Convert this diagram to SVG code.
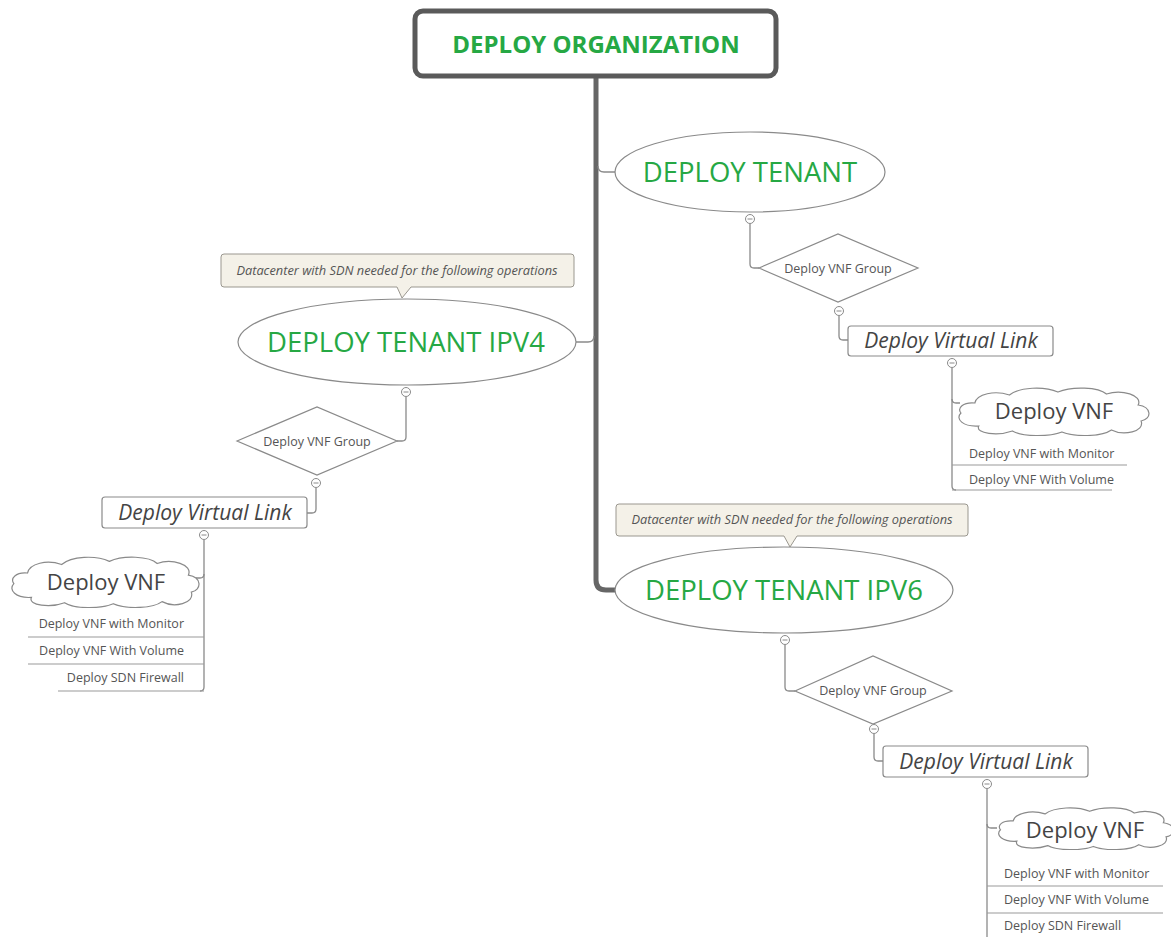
<svg xmlns="http://www.w3.org/2000/svg" xmlns:xlink="http://www.w3.org/1999/xlink" width="1171" height="937" viewBox="0 0 1171 937">
  <style>
    .title { font-family: "Open Sans", "Liberation Sans", sans-serif; fill: #26a844; text-anchor: middle; }
    .lbl { font-family: "Open Sans", "Liberation Sans", sans-serif; fill: #555; }
    .dark { fill: #444; }
    .mid { text-anchor: middle; }
    .end { text-anchor: end; }
    .it { font-style: italic; }
    .shape { fill: #fff; stroke: #8a8a8a; stroke-width: 1.2; }
    .note { fill: #f4f1e8; stroke: #9a978f; stroke-width: 1; }
    .conn { fill: none; stroke: #8a8a8a; stroke-width: 1.3; }
    .trunk { fill: none; stroke: #666; stroke-width: 5; }
    .under { fill: none; stroke: #9a9a9a; stroke-width: 1.2; }
  </style>
  <defs>
    <!-- cloud outline in a 200x50 box, stretched per node -->
    <symbol id="cloud" viewBox="0 0 200 50" preserveAspectRatio="none">
      <path vector-effect="non-scaling-stroke" fill="#fff" stroke="#8a8a8a" stroke-width="1.2"
        d="M 6 27 C 2 22, 8 16, 20 17 C 22 8, 40 4, 55 9 C 65 1, 90 0, 104 6 C 118 0, 145 1, 153 8 C 168 3, 190 9, 185 19 C 199 21, 199 33, 188 35 C 192 46, 170 50, 158 44 C 148 51, 120 51, 108 46 C 95 51, 68 51, 58 45 C 44 50, 20 48, 24 40 C 8 41, 0 33, 6 27 Z"/>
    </symbol>
    <!-- collapse toggle -->
    <g id="toggle">
      <circle r="4.5" fill="#fff" stroke="#8a8a8a" stroke-width="1"/>
      <line x1="-2.5" y1="0" x2="2.5" y2="0" stroke="#8a8a8a" stroke-width="1"/>
    </g>
  </defs>

  <g id="connectors">
    <!-- main trunk from the root down to IPV6 -->
    <path class="trunk" d="M 596 78 V 580 Q 596 590 606 590 H 616"/>
    <path class="conn" stroke-width="2" d="M 598 166 Q 598 172 604 172 H 616"/>
    <path class="conn" stroke-width="2" d="M 594 336 Q 594 342 588 342 H 576"/>

    <!-- DEPLOY TENANT branch -->
    <path class="conn" d="M 750 224 V 264 Q 750 268 754 268 H 759"/>
    <path class="conn" d="M 839 316 V 336 Q 839 340 843 340 H 848"/>
    <path class="conn" d="M 952 368 V 486 Q 952 490 956 490"/>
    <path class="conn" d="M 952 399 Q 952 403 956 403 H 960"/>
    <path class="under" d="M 952 465 H 1127"/>
    <path class="under" d="M 952 490 H 1112"/>

    <!-- IPV4 branch -->
    <path class="conn" d="M 406 397 V 437 Q 406 441 402 441 H 397"/>
    <path class="conn" d="M 316 488 V 509 Q 316 513 312 513 H 307"/>
    <path class="conn" d="M 204 540 V 687 Q 204 691 200 691"/>
    <path class="conn" d="M 204 574 Q 204 578 200 578 H 196"/>
    <path class="under" d="M 28 637 H 204"/>
    <path class="under" d="M 28 664 H 204"/>
    <path class="under" d="M 58 691 H 204"/>

    <!-- IPV6 branch -->
    <path class="conn" d="M 785 645 V 687 Q 785 691 789 691 H 795"/>
    <path class="conn" d="M 874 734 V 757 Q 874 761 878 761 H 883"/>
    <path class="conn" d="M 987 789 V 937"/>
    <path class="conn" d="M 987 824 Q 987 828 991 828 H 997"/>
    <path class="under" d="M 987 886 H 1163"/>
    <path class="under" d="M 987 913 H 1163"/>
  </g>

  <g id="node-organization">
    <rect x="415" y="11" width="361" height="65" rx="8" fill="#fff" stroke="#5a5a5a" stroke-width="5"/>
    <text class="title" x="596" y="53" font-size="24" font-weight="bold">DEPLOY ORGANIZATION</text>
  </g>

  <g id="node-tenant">
    <ellipse class="shape" cx="750" cy="172" rx="135" ry="40"/>
    <text class="title" x="750" y="182" font-size="27.5">DEPLOY TENANT</text>
    <use xlink:href="#toggle" x="750" y="219"/>
  </g>

  <g id="node-tenant-group">
    <polygon class="shape" points="759,268 838,234 918,268 838,302"/>
    <text class="lbl mid" x="838" y="273" font-size="12.5">Deploy VNF Group</text>
    <use xlink:href="#toggle" x="839" y="311"/>
  </g>

  <g id="node-tenant-link">
    <rect class="shape" x="848" y="326" width="205" height="30" rx="3"/>
    <text class="lbl dark mid it" x="951" y="348" font-size="21">Deploy Virtual Link</text>
    <use xlink:href="#toggle" x="952" y="363"/>
  </g>

  <g id="node-tenant-vnf">
    <use xlink:href="#cloud" x="955" y="386" width="198" height="50"/>
    <text class="lbl dark mid" x="1054" y="419" font-size="22">Deploy VNF</text>
    <text class="lbl" x="969" y="458" font-size="12.5">Deploy VNF with Monitor</text>
    <text class="lbl" x="969" y="484" font-size="12.5">Deploy VNF With Volume</text>
  </g>

  <g id="node-ipv4-note">
    <path class="note" d="M 224 254 H 571 Q 574 254 574 257 V 284 Q 574 287 571 287 H 411 L 402 298 L 397 287 H 224 Q 221 287 221 284 V 257 Q 221 254 224 254 Z"/>
    <text class="lbl mid it" x="397" y="275" font-size="12.8" fill="#666">Datacenter with SDN needed for the following operations</text>
  </g>

  <g id="node-ipv4">
    <ellipse class="shape" cx="407" cy="342" rx="169" ry="43"/>
    <text class="title" x="406" y="352" font-size="27.5">DEPLOY TENANT IPV4</text>
    <use xlink:href="#toggle" x="406" y="392"/>
  </g>

  <g id="node-ipv4-group">
    <polygon class="shape" points="237,441 317,407 397,441 317,475"/>
    <text class="lbl mid" x="317" y="446" font-size="12.5">Deploy VNF Group</text>
    <use xlink:href="#toggle" x="316" y="483"/>
  </g>

  <g id="node-ipv4-link">
    <rect class="shape" x="102" y="497" width="205" height="31" rx="3"/>
    <text class="lbl dark mid it" x="205" y="520" font-size="21">Deploy Virtual Link</text>
    <use xlink:href="#toggle" x="204" y="535"/>
  </g>

  <g id="node-ipv4-vnf">
    <use xlink:href="#cloud" x="8" y="555" width="195" height="53"/>
    <text class="lbl dark mid" x="106" y="590" font-size="22">Deploy VNF</text>
    <text class="lbl end" x="184" y="628" font-size="12.5">Deploy VNF with Monitor</text>
    <text class="lbl end" x="184" y="655" font-size="12.5">Deploy VNF With Volume</text>
    <text class="lbl end" x="184" y="682" font-size="12.5">Deploy SDN Firewall</text>
  </g>

  <g id="node-ipv6-note">
    <path class="note" d="M 619 504 H 965 Q 968 504 968 507 V 533 Q 968 536 965 536 H 797 L 790 547 L 784 536 H 619 Q 616 536 616 533 V 507 Q 616 504 619 504 Z"/>
    <text class="lbl mid it" x="792" y="524" font-size="12.8" fill="#666">Datacenter with SDN needed for the following operations</text>
  </g>

  <g id="node-ipv6">
    <ellipse class="shape" cx="784" cy="590" rx="169" ry="43"/>
    <text class="title" x="784" y="600" font-size="27.5">DEPLOY TENANT IPV6</text>
    <use xlink:href="#toggle" x="785" y="640"/>
  </g>

  <g id="node-ipv6-group">
    <polygon class="shape" points="795,691 873,656 952,691 873,724"/>
    <text class="lbl mid" x="873" y="695" font-size="12.5">Deploy VNF Group</text>
    <use xlink:href="#toggle" x="874" y="729"/>
  </g>

  <g id="node-ipv6-link">
    <rect class="shape" x="883" y="746" width="205" height="31" rx="3"/>
    <text class="lbl dark mid it" x="986" y="769" font-size="21">Deploy Virtual Link</text>
    <use xlink:href="#toggle" x="987" y="784"/>
  </g>

  <g id="node-ipv6-vnf">
    <use xlink:href="#cloud" x="995" y="806" width="182" height="44"/>
    <text class="lbl dark mid" x="1085" y="838" font-size="22">Deploy VNF</text>
    <text class="lbl" x="1004" y="878" font-size="12.5">Deploy VNF with Monitor</text>
    <text class="lbl" x="1004" y="904" font-size="12.5">Deploy VNF With Volume</text>
    <text class="lbl" x="1004" y="930" font-size="12.5">Deploy SDN Firewall</text>
  </g>
</svg>
